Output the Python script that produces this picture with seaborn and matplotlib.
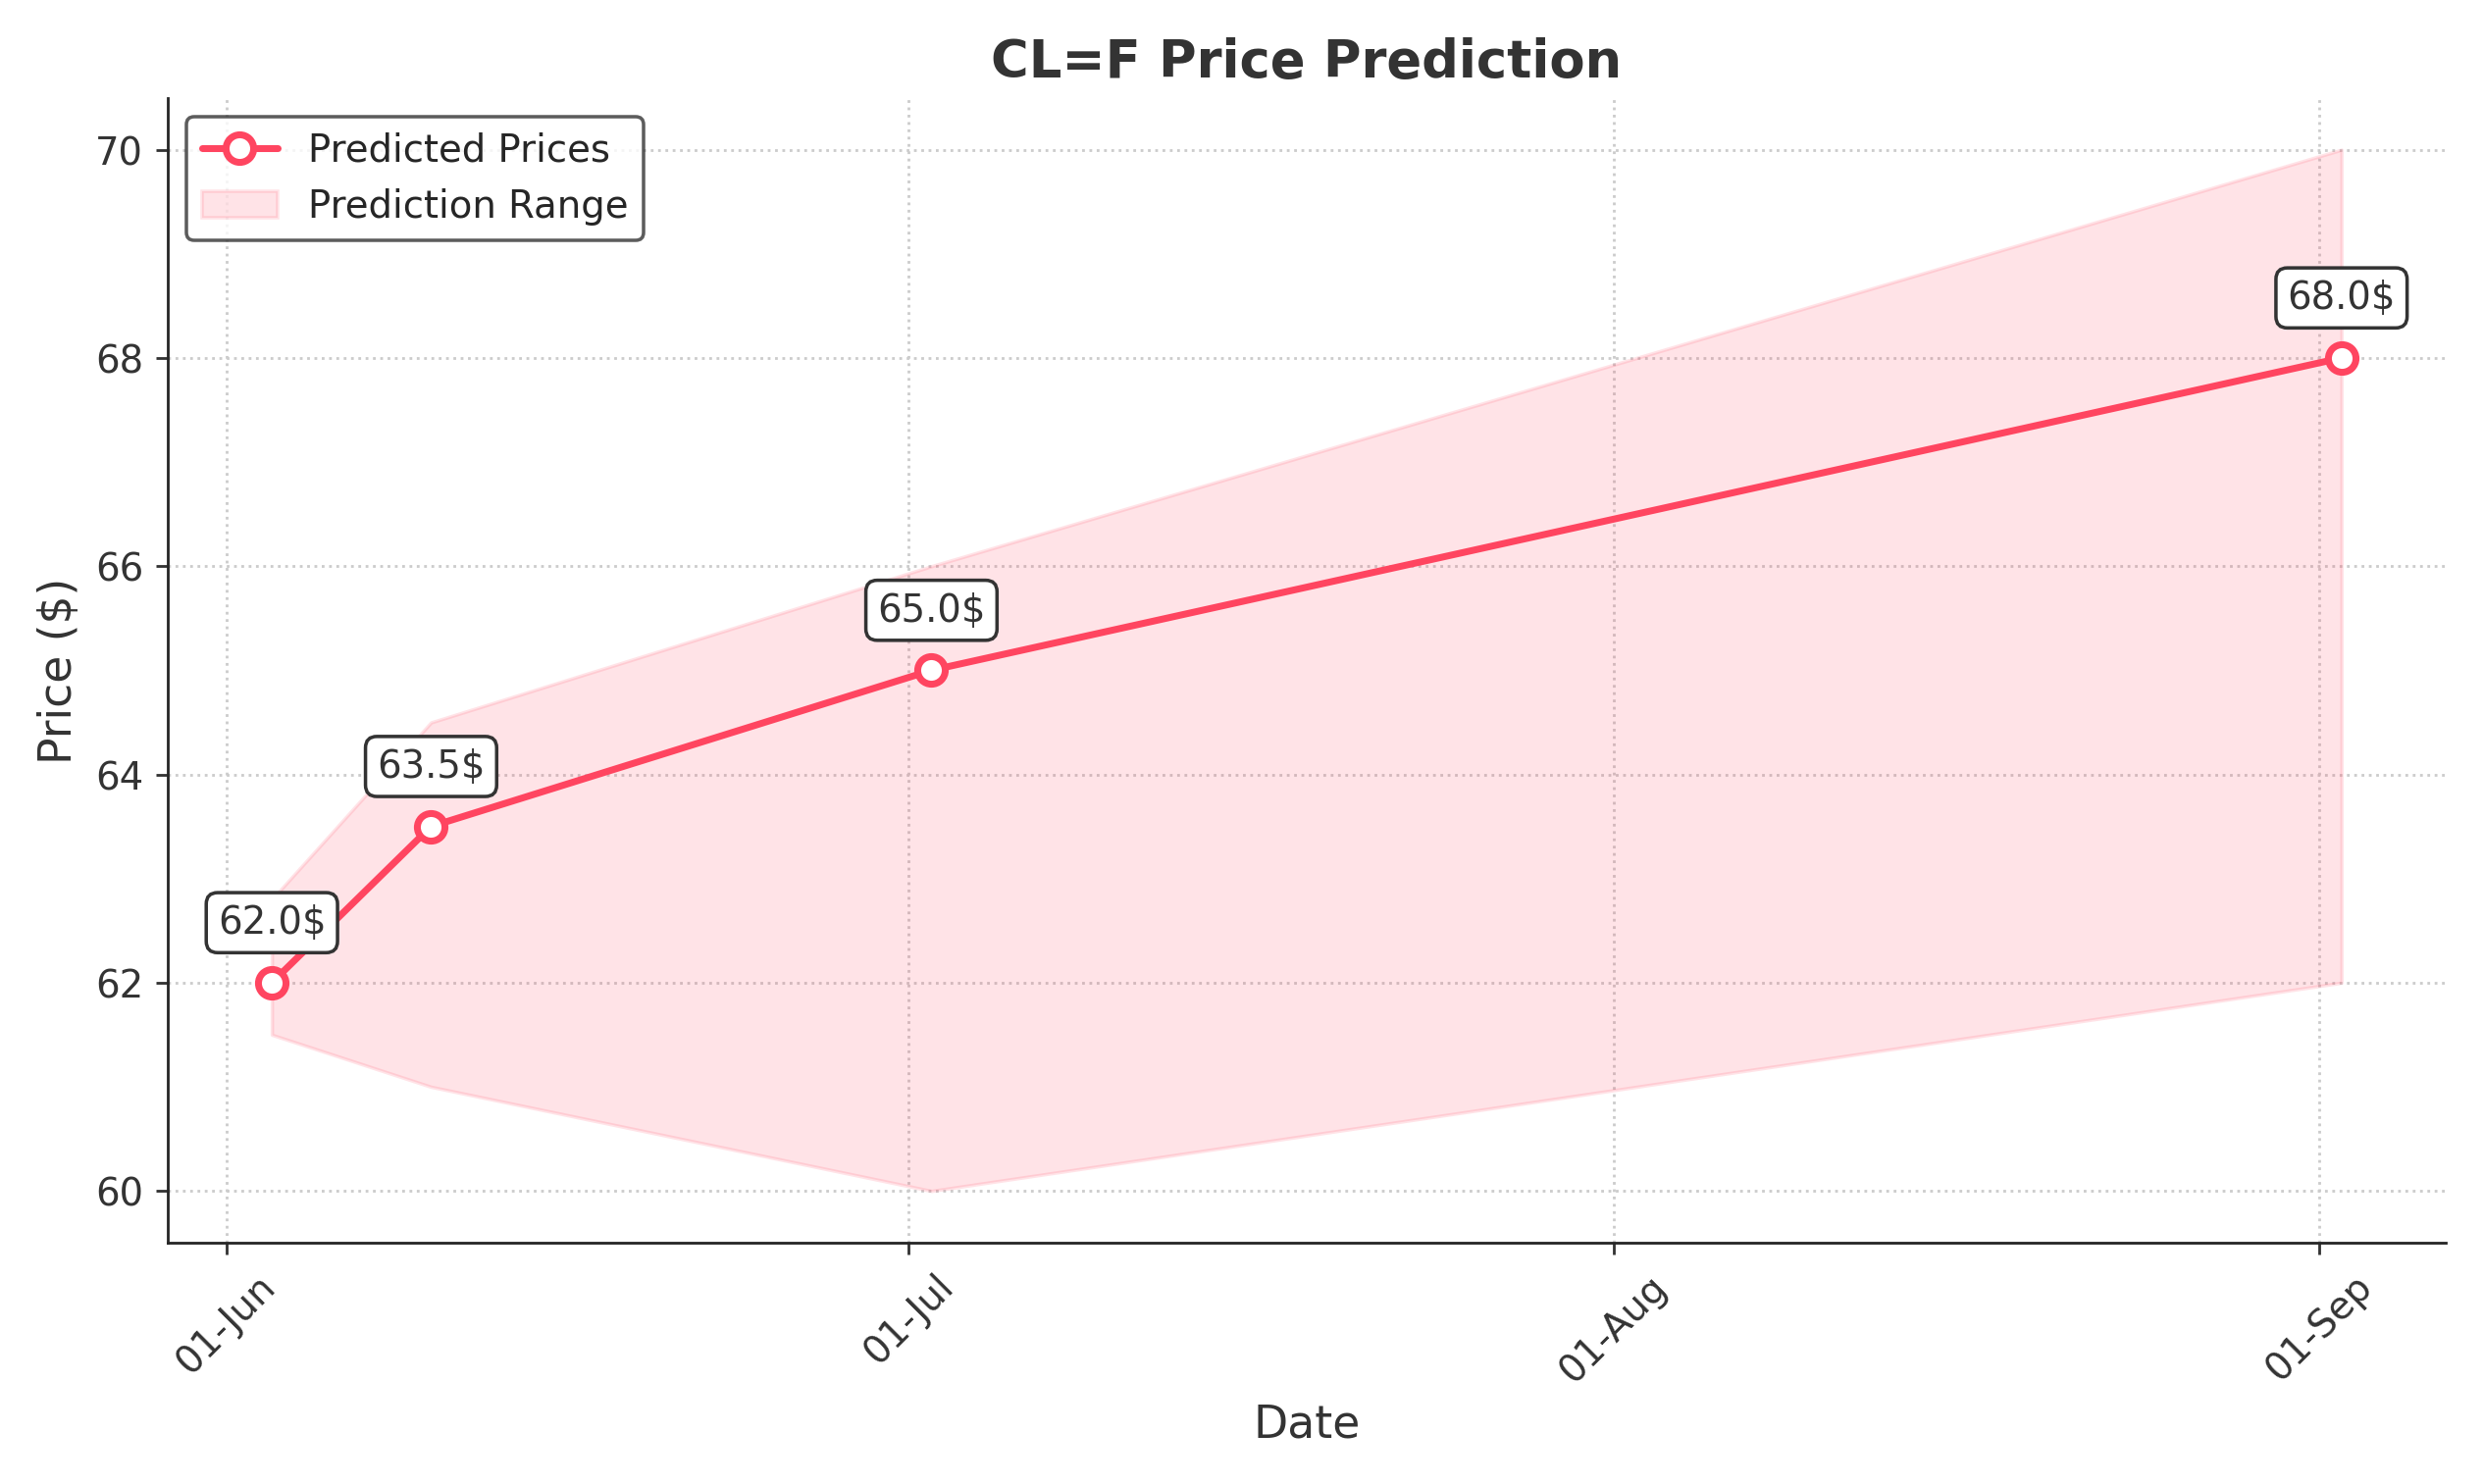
import matplotlib
matplotlib.use("Agg")
import matplotlib.pyplot as plt
import matplotlib.dates as mdates
import seaborn as sns
import pandas as pd

dates = ["2025-06-03", "2025-06-10", "2025-07-02", "2025-09-02"]
predicted = [62.0, 63.5, 65.0, 68.0]
lower = [61.5, 61.0, 60.0, 62.0]
upper = [62.8, 64.5, 66.0, 70.0]

df = pd.DataFrame({"Date": pd.to_datetime(dates), "Price": predicted,
                   "Lower": lower, "Upper": upper})

sns.set_style("ticks")
fig, ax = plt.subplots(figsize=(10.0, 5.98), dpi=253.1)
color = "#FF4560"
ax.fill_between(df["Date"], df["Lower"], df["Upper"], color=color, alpha=0.15,
                label="Prediction Range")
sns.lineplot(data=df, x="Date", y="Price", ax=ax, color=color, linewidth=2,
             marker="o", markersize=8, markerfacecolor="white",
             markeredgecolor=color, markeredgewidth=2, label="Predicted Prices")
for d, p in zip(df["Date"], df["Price"]):
    ax.annotate(f"{p}$", (d, p), xytext=(0, 12), textcoords="offset points",
                ha="center", va="bottom", fontsize=11, color="#333333",
                bbox=dict(boxstyle="round,pad=0.3", fc="white", ec="#333333", lw=1))
ax.set_title("CL=F Price Prediction", fontsize=15, fontweight="bold", color="#333333")
ax.set_xlabel("Date", fontsize=13, color="#333333")
ax.set_ylabel("Price ($)", fontsize=13, color="#333333")
ax.xaxis.set_major_locator(mdates.MonthLocator())
ax.xaxis.set_major_formatter(mdates.DateFormatter("%d-%b"))
ax.set_xlim(pd.Timestamp("2025-05-29 10:00"), pd.Timestamp("2025-09-06 14:00"))
ax.set_ylim(59.5, 70.5)
ax.tick_params(labelsize=11, colors="#333333")
plt.setp(ax.get_xticklabels(), rotation=45)
ax.grid(True, linestyle=":", color="#cccccc")
sns.despine(ax=ax)
h, l = ax.get_legend_handles_labels()
order = [l.index("Predicted Prices"), l.index("Prediction Range")]
ax.legend([h[i] for i in order], [l[i] for i in order], loc="upper left",
          frameon=True, edgecolor="#333333", fontsize=11)
fig.tight_layout()
fig.savefig("out.png")
